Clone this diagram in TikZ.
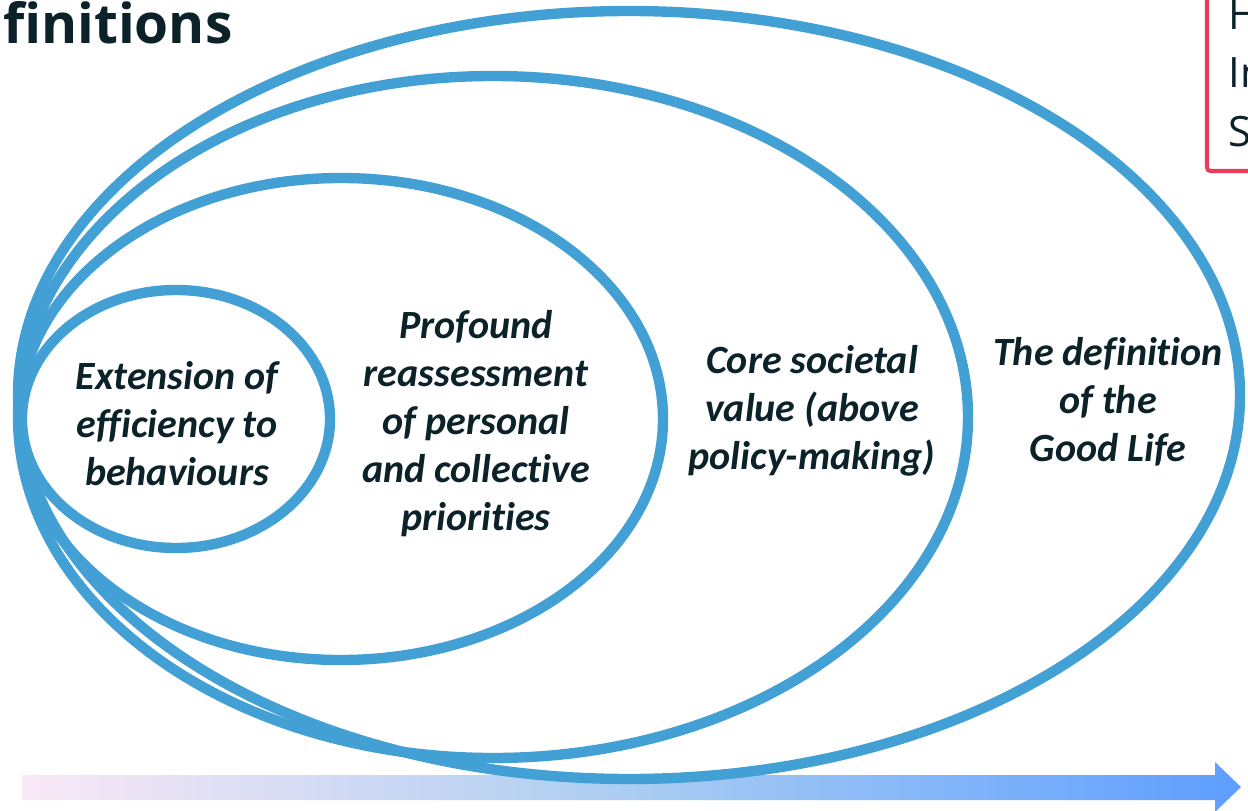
\documentclass[tikz,border=0pt]{standalone}
\usepackage{fontspec}
\setmainfont{Carlito}[Ligatures=NoCommon]
\newfontfamily\headfont{Open Sans}
\definecolor{ringblue}{RGB}{66,160,212}
\definecolor{inkdark}{RGB}{11,34,40}
\definecolor{boxred}{RGB}{232,62,92}
\definecolor{fadepink}{RGB}{250,232,246}
\definecolor{fademid}{RGB}{170,205,242}
\definecolor{fadeblue}{RGB}{94,158,255}

\begin{document}
\begin{tikzpicture}
    [
      x=0.02cm, y=-0.02cm,
      ring/.style={draw=ringblue,line width=5.9pt},
      ringtext/.style={align=center,inner sep=0pt,text=inkdark,font=\fontsize{22.8}{27.3}\selectfont\bfseries\itshape},
      note/.style={anchor=base west,inner sep=0pt,text=inkdark,font=\headfont\fontsize{23.8}{28}\selectfont},
      notebox/.style={draw=boxred,line width=2.3pt,rounded corners=2pt},
    ]

    \clip (0,0) rectangle (1248,811);

    \shade [left color=fadepink,right color=fadeblue,middle color=fademid]
      (22,775) -- (1215,775) -- (1215,762) -- (1241,787) -- (1215,812)
      -- (1215,800) -- (22,800) -- cycle;

    \draw [ring] (629,395) ellipse (611 and 384);
    \draw [ring] (493,417) ellipse (475 and 341);
    \draw [ring] (341,419) ellipse (322 and 241);
    \draw [ring] (176,419) ellipse (154 and 129);

    \node (ext) [ringtext] at (177,424) {Extension of\\efficiency to\\behaviours};
    \node (prof) [ringtext] at (476,424) {Profound\\reassessment\\of personal\\and collective\\priorities};
    \node (core) [ringtext] at (812,411) {Core societal\\value (above\\policy-making)};
    \node (good) [ringtext] at (1108,402) {The definition\\of the\\Good Life};

    \node (title) [anchor=base west,inner sep=0pt,text=inkdark,font=\headfont\fontsize{31.3}{36}\selectfont\bfseries] at (3,44) {finitions};

    \draw [notebox] (1207,-20) rectangle (1400,171);
    \node (note-h) [note] at (1228,30) {H};
    \node (note-i) [note] at (1228,88) {In};
    \node (note-s) [note] at (1228,147) {S};

  \end{tikzpicture}
\end{document}
